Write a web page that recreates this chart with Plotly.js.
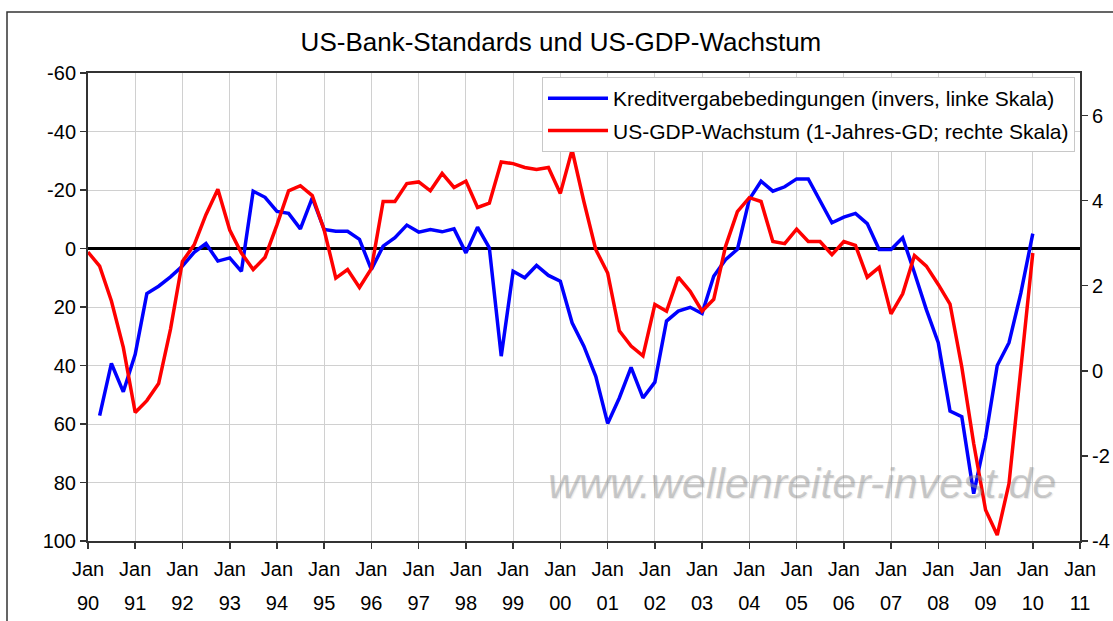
<!DOCTYPE html>
<html>
<head>
<meta charset="utf-8">
<script src="https://cdn.plot.ly/plotly-3.0.1.min.js"></script>
<style>
  html, body { margin: 0; padding: 0; background: #ffffff; }
  #chart { width: 1113px; height: 621px; }
</style>
</head>
<body>
<div id="chart"></div>
<script>
// Quarterly observations (start of quarter)
const quarters = [
  '1990-01-01','1990-04-01','1990-07-01','1990-10-01',
  '1991-01-01','1991-04-01','1991-07-01','1991-10-01',
  '1992-01-01','1992-04-01','1992-07-01','1992-10-01',
  '1993-01-01','1993-04-01','1993-07-01','1993-10-01',
  '1994-01-01','1994-04-01','1994-07-01','1994-10-01',
  '1995-01-01','1995-04-01','1995-07-01','1995-10-01',
  '1996-01-01','1996-04-01','1996-07-01','1996-10-01',
  '1997-01-01','1997-04-01','1997-07-01','1997-10-01',
  '1998-01-01','1998-04-01','1998-07-01','1998-10-01',
  '1999-01-01','1999-04-01','1999-07-01','1999-10-01',
  '2000-01-01','2000-04-01','2000-07-01','2000-10-01',
  '2001-01-01','2001-04-01','2001-07-01','2001-10-01',
  '2002-01-01','2002-04-01','2002-07-01','2002-10-01',
  '2003-01-01','2003-04-01','2003-07-01','2003-10-01',
  '2004-01-01','2004-04-01','2004-07-01','2004-10-01',
  '2005-01-01','2005-04-01','2005-07-01','2005-10-01',
  '2006-01-01','2006-04-01','2006-07-01','2006-10-01',
  '2007-01-01','2007-04-01','2007-07-01','2007-10-01',
  '2008-01-01','2008-04-01','2008-07-01','2008-10-01',
  '2009-01-01','2009-04-01','2009-07-01','2009-10-01',
  '2010-01-01'
];

// Kreditvergabebedingungen (net % tightening, plotted inverted on left axis)
const creditStandards = [
  null, 57.1, 39.3, 49.0,
  36.2, 15.4, 12.9, 9.7,
  6.0, 1.3, -1.7, 4.3,
  3.2, 7.8, -19.6, -17.5,
  -12.7, -12.0, -6.7, -17.3,
  -6.5, -5.9, -5.9, -3.1,
  7.2, -0.8, -3.7, -8.0,
  -5.6, -6.5, -5.7, -6.7,
  1.5, -7.3, -0.2, 36.8,
  7.8, 10.0, 5.8, 9.2,
  11.2, 25.4, 33.4, 43.7,
  59.8, 51.1, 40.6, 51.1,
  45.7, 24.8, 21.4, 20.1,
  22.2, 9.5, 3.8, 0.3,
  -16.8, -23.0, -19.6, -21.1,
  -23.8, -23.8, -16.5, -8.8,
  -10.7, -12.0, -8.5, 0.3,
  0.3, -3.7, 8.3, 20.9,
  32.2, 55.6, 57.5, 83.8,
  64.7, 40.0, 32.2, 15.2,
  -5.1
];

// US-GDP-Wachstum (1-Jahres-GD), right axis, %
const gdpGrowth = [
  2.79, 2.46, 1.64, 0.55,
  -0.98, -0.70, -0.30, 0.98,
  2.57, 2.96, 3.67, 4.27,
  3.31, 2.77, 2.38, 2.67,
  3.43, 4.23, 4.35, 4.12,
  3.31, 2.18, 2.38, 1.96,
  2.40, 3.98, 3.98, 4.40,
  4.44, 4.23, 4.64, 4.31,
  4.46, 3.84, 3.94, 4.91,
  4.87, 4.78, 4.73, 4.78,
  4.17, 5.19, 3.98, 2.85,
  2.30, 0.94, 0.58, 0.35,
  1.56, 1.40, 2.20, 1.87,
  1.40, 1.68, 2.92, 3.74,
  4.07, 3.98, 3.04, 2.99,
  3.33, 3.04, 3.04, 2.73,
  3.04, 2.95, 2.20, 2.43,
  1.34, 1.81, 2.71, 2.46,
  2.03, 1.57, 0.09, -1.71,
  -3.27, -3.86, -2.65, 0.08,
  2.77
];

const leftTickVals = [-60, -40, -20, 0, 20, 40, 60, 80, 100];
const leftTickText = ['-60', '-40', '-20', '0', '20', '40', '60', '80', '100'];
const rightTickVals = [-4, -2, 0, 2, 4, 6];
const rightTickText = ['-4', '-2', '0', '2', '4', '6'];

const seriesNames = [
  'Kreditvergabebedingungen (invers, linke Skala)',
  'US-GDP-Wachstum (1-Jahres-GD; rechte Skala)'
];
const chartTitle = 'US-Bank-Standards und US-GDP-Wachstum';
const watermark = 'www.wellenreiter-invest.de';

const FONT = 'Liberation Sans, Arial, sans-serif';
const W = 1113, H = 621;
const L = 88, R = 1080, T = 73, B = 541;
const pxX = px => (px - L) / (R - L);
const pxY = py => (B - py) / (B - T);

const xRange = ['1990-01-01', '2011-01-01'];

const traces = [
  {
    type: 'scatter', mode: 'lines', name: seriesNames[0],
    x: quarters, y: creditStandards, xaxis: 'x', yaxis: 'y',
    line: { color: '#0000ff', width: 3.5 },
    legendgroup: 'a'
  },
  {
    type: 'scatter', mode: 'lines', name: seriesNames[1],
    x: quarters, y: gdpGrowth, xaxis: 'x', yaxis: 'y2',
    line: { color: '#ff0000', width: 3.5 },
    legendgroup: 'b'
  },
  {
    // carrier for the second (year) label row of the time axis; draws nothing
    type: 'scatter', mode: 'lines', name: 'years',
    x: xRange, y: [null, null], xaxis: 'x2', yaxis: 'y',
    showlegend: false, hoverinfo: 'skip'
  }
];

const tickFont = { family: FONT, size: 20, color: '#000' };

const layout = {
  width: W, height: H,
  margin: { l: L, r: W - R, t: T, b: H - B, pad: 0 },
  paper_bgcolor: '#ffffff', plot_bgcolor: '#ffffff',
  showlegend: true,
  title: {
    text: chartTitle,
    font: { family: FONT, size: 26, color: '#000' },
    xref: 'container', x: 0.504, xanchor: 'center',
    yref: 'container', y: 1 - 42 / H, yanchor: 'middle'
  },
  xaxis: {
    type: 'date', range: xRange,
    tickmode: 'linear', tick0: '1990-01-01', dtick: 'M12',
    tickformat: '%b', tickfont: tickFont,
    ticks: 'outside', ticklen: 6, tickwidth: 1.5, tickcolor: '#333',
    ticklabelstandoff: 3,
    showgrid: true, gridcolor: '#d0d0d0', gridwidth: 1,
    showline: true, linecolor: '#333', linewidth: 2, mirror: true,
    zeroline: false, fixedrange: true
  },
  xaxis2: {
    type: 'date', range: xRange, overlaying: 'x', anchor: 'y', side: 'bottom',
    tickmode: 'linear', tick0: '1990-01-01', dtick: 'M12',
    tickformat: '%y', tickfont: tickFont,
    ticks: '', ticklabelstandoff: 48,
    showgrid: false, showline: false, zeroline: false, fixedrange: true
  },
  yaxis: {
    range: [100, -60],
    tickmode: 'array', tickvals: leftTickVals, ticktext: leftTickText,
    tickfont: tickFont,
    ticks: 'outside', ticklen: 6, tickwidth: 1.5, tickcolor: '#333',
    showgrid: true, gridcolor: '#d0d0d0', gridwidth: 1,
    zeroline: true, zerolinecolor: '#000', zerolinewidth: 3,
    showline: true, linecolor: '#333', linewidth: 2,
    fixedrange: true
  },
  yaxis2: {
    range: [-4, 7], overlaying: 'y', side: 'right', anchor: 'x',
    tickmode: 'array', tickvals: rightTickVals, ticktext: rightTickText,
    tickfont: tickFont,
    ticks: 'outside', ticklen: 6, tickwidth: 1.5, tickcolor: '#333',
    showgrid: false, zeroline: false,
    showline: true, linecolor: '#333', linewidth: 2,
    fixedrange: true
  },
  legend: {
    x: pxX(1075), xanchor: 'right', y: pxY(77), yanchor: 'top',
    bgcolor: '#ffffff', bordercolor: '#c8c8c8', borderwidth: 1,
    font: { family: FONT, size: 21, color: '#000' },
    traceorder: 'grouped', tracegroupgap: 2, itemwidth: 60
  },
  annotations: [
    {
      text: '<i>' + watermark + '</i>',
      xref: 'paper', yref: 'paper', x: pxX(802), y: pxY(483),
      xanchor: 'center', yanchor: 'middle', showarrow: false,
      font: { family: FONT, size: 43, color: 'rgba(150,150,150,0.45)',
              shadow: '1px 1px 1px rgba(110,110,110,0.35)' }
    }
  ],
  shapes: [
    {
      type: 'rect', xref: 'paper', yref: 'paper', layer: 'above',
      x0: pxX(7), x1: pxX(1130), y0: pxY(650), y1: pxY(12),
      line: { color: '#333', width: 1.5 }, fillcolor: 'rgba(0,0,0,0)'
    }
  ]
};

Plotly.newPlot('chart', traces, layout, { staticPlot: true, displayModeBar: false });
</script>
</body>
</html>
